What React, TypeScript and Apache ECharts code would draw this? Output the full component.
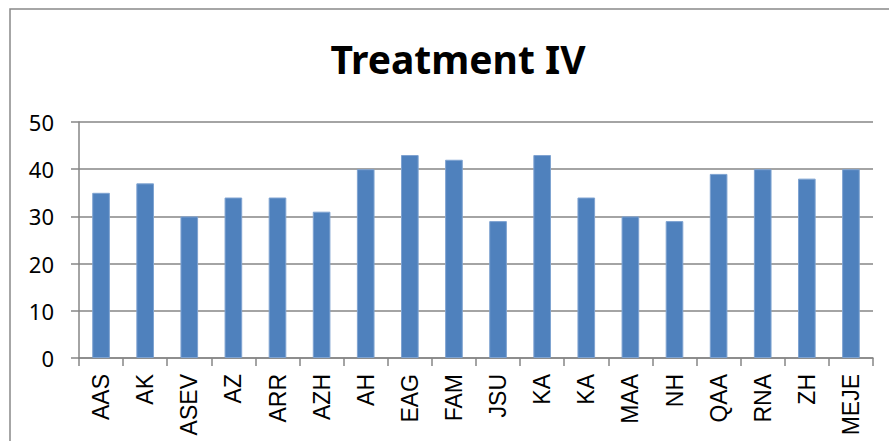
import React, { useEffect, useRef } from "react";
import * as echarts from "echarts";

const categories = ["AAS", "AK", "ASEV", "AZ", "ARR", "AZH", "AH", "EAG", "FAM", "JSU", "KA", "KA", "MAA", "NH", "QAA", "RNA", "ZH", "MEJE"];
const values = [35, 37, 30, 34, 34, 31, 40, 43, 42, 29, 43, 34, 30, 29, 39, 40, 38, 40];
const yTicks = [0, 10, 20, 30, 40, 50];

export default function App() {
  const ref = useRef<HTMLDivElement>(null);
  useEffect(() => {
    if (!ref.current) return;
    const chart = echarts.init(ref.current, undefined, { renderer: "svg" });
    chart.setOption({
      animation: false,
      backgroundColor: "#ffffff",
      title: {
        text: "Treatment IV",
        left: 453,
        top: 34,
        textAlign: "center",
        textStyle: { fontFamily: "Noto Sans", fontWeight: "bold", fontSize: 39, color: "#000000" },
      },
      graphic: [
        {
          type: "rect",
          shape: { x: 10, y: 9, width: 900, height: 460 },
          style: { fill: "none", stroke: "#898989", lineWidth: 1.5 },
          silent: true,
        },
      ],
      grid: { left: 79, right: 16, top: 122, bottom: 83, containLabel: false },
      xAxis: {
        type: "category",
        data: categories,
        axisLine: { show: true, lineStyle: { color: "#868686", width: 1.5 } },
        axisTick: { show: true, length: 8, lineStyle: { color: "#868686", width: 1.5 } },
        axisLabel: {
          interval: 0,
          rotate: 90,
          margin: 16,
          fontFamily: "Liberation Sans",
          fontSize: 23,
          color: "#000000",
        },
      },
      yAxis: {
        type: "value",
        min: yTicks[0],
        max: yTicks[yTicks.length - 1],
        interval: 10,
        axisLine: { show: true, lineStyle: { color: "#868686", width: 1.5 } },
        axisTick: { show: true, length: 8, lineStyle: { color: "#868686", width: 1.5 } },
        splitLine: { show: true, lineStyle: { color: "#868686", width: 1.5 } },
        axisLabel: { margin: 25, fontFamily: "Noto Sans", fontSize: 22, color: "#000000" },
      },
      series: [
        {
          type: "bar",
          data: values,
          barCategoryGap: "60%",
          itemStyle: { color: "#4F81BD", borderColor: "#7fa3d1", borderWidth: 1 },
        },
      ],
    });
    return () => chart.dispose();
  }, []);
  return <div ref={ref} style={{ position: "fixed", left: 0, top: 0, width: 889, height: 441 }} />;
}
